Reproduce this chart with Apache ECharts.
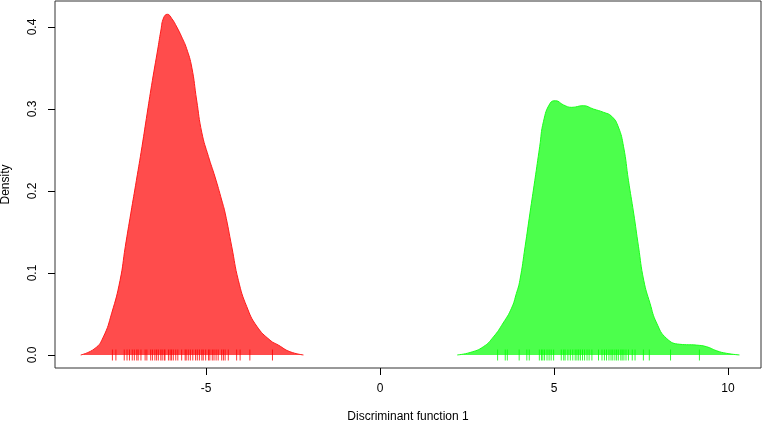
<!DOCTYPE html>
<html>
<head>
<meta charset="utf-8">
<script src="https://cdn.jsdelivr.net/npm/echarts@6/dist/echarts.min.js"></script>
<style>
  html, body { margin: 0; padding: 0; background: #fff; }
  #chart { width: 767px; height: 423px; }
</style>
</head>
<body>
<div id="chart"></div>
<script>
// density curve of group 1 (red), [x, density]
const redDensity = [
  [-8.60, 0], [-8.19, 0.008], [-7.95, 0.022], [-7.71, 0.051], [-7.47, 0.091],
  [-7.32, 0.132], [-7.16, 0.173], [-7.00, 0.213], [-6.84, 0.254], [-6.69, 0.295],
  [-6.54, 0.335], [-6.39, 0.372], [-6.30, 0.395], [-6.22, 0.411], [-6.11, 0.4155],
  [-5.98, 0.410], [-5.84, 0.400], [-5.70, 0.388], [-5.56, 0.374], [-5.41, 0.351],
  [-5.27, 0.311], [-5.12, 0.271], [-4.93, 0.242], [-4.74, 0.217], [-4.55, 0.189],
  [-4.45, 0.173], [-4.26, 0.132], [-4.07, 0.091], [-3.83, 0.059], [-3.54, 0.035],
  [-3.16, 0.018], [-2.92, 0.012], [-2.59, 0.004], [-2.20, 0]
];
// density curve of group 2 (green)
const greenDensity = [
  [2.22, 0], [2.59, 0.003], [2.97, 0.010], [3.26, 0.022], [3.54, 0.039],
  [3.78, 0.057], [3.92, 0.075], [4.02, 0.091], [4.17, 0.132], [4.31, 0.173],
  [4.45, 0.213], [4.59, 0.254], [4.70, 0.285], [4.89, 0.307], [5.05, 0.310],
  [5.27, 0.305], [5.51, 0.302], [5.84, 0.304], [6.13, 0.300], [6.42, 0.296],
  [6.66, 0.291], [6.85, 0.278], [7.00, 0.254], [7.14, 0.213], [7.29, 0.173],
  [7.43, 0.132], [7.58, 0.091], [7.76, 0.063], [7.95, 0.039], [8.24, 0.020],
  [8.62, 0.013], [9.10, 0.012], [9.39, 0.010], [9.68, 0.005], [9.96, 0.002],
  [10.33, 0]
];
// rug positions
const redRug = [
  -7.69, -7.59, -7.35, -7.27, -7.20, -7.12, -7.06, -6.99, -6.95, -6.87,
  -6.75, -6.70, -6.59, -6.54, -6.47, -6.42, -6.37, -6.30, -6.26, -6.20,
  -6.18, -6.08, -6.03, -5.99, -5.94, -5.87, -5.81, -5.70, -5.60, -5.57,
  -5.51, -5.45, -5.38, -5.30, -5.25, -5.19, -5.12, -5.08, -5.01, -4.93,
  -4.89, -4.82, -4.77, -4.71, -4.65, -4.55, -4.50, -4.45, -4.36, -4.12,
  -4.02, -3.74, -3.09
];
const greenRug = [
  3.38, 3.60, 3.66, 4.00, 4.22, 4.29, 4.58, 4.64, 4.68, 4.73,
  4.80, 4.86, 4.92, 4.99, 5.21, 5.28, 5.32, 5.40, 5.47, 5.54,
  5.61, 5.66, 5.71, 5.76, 5.82, 5.88, 5.95, 6.01, 6.09, 6.28,
  6.38, 6.45, 6.51, 6.58, 6.64, 6.69, 6.75, 6.80, 6.85, 6.92,
  6.96, 7.01, 7.07, 7.14, 7.25, 7.33, 7.57, 7.74, 8.35, 9.18
];
const xTicks = [-5, 0, 5, 10];
const yTicks = [0, 0.1, 0.2, 0.3, 0.4];

const font = '"Liberation Sans", Arial, sans-serif';
let myChart = echarts.init(document.getElementById('chart'));

function rugSeries(vals, color) {
  return {
    type: 'scatter',
    data: vals.map(v => [v, 0]),
    symbol: 'rect',
    symbolSize: [1, 11],
    itemStyle: { color: color },
    silent: true,
    z: 5
  };
}

function densitySeries(data, line, fill) {
  return {
    type: 'line',
    data: data,
    smooth: true,
    showSymbol: false,
    silent: true,
    lineStyle: { color: line, width: 1 },
    areaStyle: { color: fill, origin: 0, opacity: 1 }
  };
}

let options = {
  animation: false,
  backgroundColor: '#fff',
  textStyle: { fontFamily: font },
  grid: {
    left: 55, right: 6, top: 1, bottom: 55,
    containLabel: false,
    outerBoundsMode: 'none',
    show: true,
    borderColor: '#333',
    borderWidth: 1
  },
  xAxis: {
    type: 'value',
    min: -9.34,
    max: 10.95,
    name: 'Discriminant function 1',
    nameLocation: 'middle',
    nameGap: 43,
    nameTextStyle: { color: '#000', fontSize: 12, fontFamily: font },
    axisLine: { show: false, onZero: false },
    splitLine: { show: false },
    axisTick: {
      show: true, length: 7, inside: false,
      customValues: xTicks,
      lineStyle: { color: '#000' }
    },
    axisLabel: {
      customValues: xTicks,
      margin: 15,
      color: '#000', fontSize: 12, fontFamily: font
    }
  },
  yAxis: {
    type: 'value',
    min: -0.0159,
    max: 0.4317,
    name: 'Density',
    nameLocation: 'middle',
    nameGap: 43,
    nameTextStyle: { color: '#000', fontSize: 12, fontFamily: font },
    axisLine: { show: false, onZero: false },
    splitLine: { show: false },
    axisTick: {
      show: true, length: 7, inside: false,
      customValues: yTicks,
      lineStyle: { color: '#000' }
    },
    axisLabel: {
      customValues: yTicks,
      rotate: 90,
      margin: 16,
      color: '#000', fontSize: 12, fontFamily: font,
      formatter: v => v.toFixed(1)
    }
  },
  series: [
    densitySeries(redDensity, '#ff1a1a', 'rgba(255,0,0,0.7)'),
    densitySeries(greenDensity, '#1aff1a', 'rgba(0,255,0,0.7)'),
    rugSeries(redRug, '#ff0000'),
    rugSeries(greenRug, '#00ff00')
  ]
};
myChart.setOption(options);
</script>
</body>
</html>
